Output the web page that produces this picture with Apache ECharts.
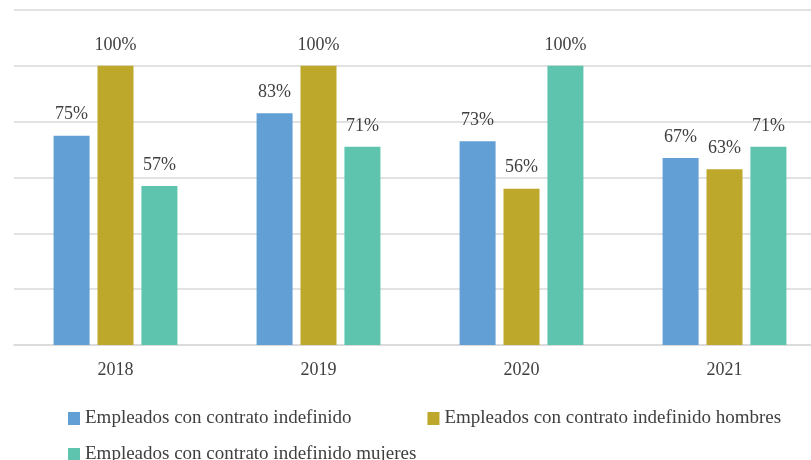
<!DOCTYPE html>
<html>
<head>
<meta charset="utf-8">
<script src="https://cdn.jsdelivr.net/npm/echarts@6/dist/echarts.min.js"></script>
<style>html,body{margin:0;padding:0;background:#fff}#c{width:811px;height:460px}</style>
</head>
<body>
<div id="c"></div>
<script>
const categories = ['2018', '2019', '2020', '2021'];
const seriesNames = [
  'Empleados con contrato indefinido',
  'Empleados con contrato indefinido hombres',
  'Empleados con contrato indefinido mujeres'
];
const indefinido = [75, 83, 73, 67];
const hombres = [100, 100, 56, 63];
const mujeres = [57, 71, 100, 71];
const colors = ['#629FD5', '#BEA82C', '#5EC4AE'];

const FONT = '"Liberation Serif", "Times New Roman", serif';
const label = {
  show: true, position: 'top', distance: 12,
  formatter: '{c}%', fontFamily: FONT, fontSize: 18, color: '#404040'
};
function mk(name, data, color) {
  return { name, type: 'bar', data, barWidth: 36, barGap: '22%',
    itemStyle: { color }, label };
}
const legendText = { fontFamily: FONT, fontSize: 19, color: '#404040' };
const chart = echarts.init(document.getElementById('c'));
chart.setOption({
  animation: false,
  grid: { left: 14, width: 812, top: 10, bottom: 115, containLabel: false,
          outerBoundsMode: 'none' },
  legend: [
    { data: [seriesNames[0], seriesNames[1]], left: 63, top: 404, icon: 'rect',
      itemWidth: 12, itemHeight: 13, itemGap: 76, textStyle: legendText },
    { data: [seriesNames[2]], left: 63, top: 440, icon: 'rect',
      itemWidth: 12, itemHeight: 13, textStyle: legendText }
  ],
  xAxis: {
    type: 'category', data: categories,
    axisLine: { lineStyle: { color: '#D9D9D9', width: 1.5 } },
    axisTick: { show: false },
    axisLabel: { margin: 16, fontFamily: FONT, fontSize: 18, color: '#404040' }
  },
  yAxis: {
    type: 'value', min: 0, max: 120, interval: 20,
    axisLabel: { show: false }, axisLine: { show: false }, axisTick: { show: false },
    splitLine: { lineStyle: { color: '#D9D9D9', width: 1.5 } }
  },
  series: [
    mk(seriesNames[0], indefinido, colors[0]),
    mk(seriesNames[1], hombres, colors[1]),
    mk(seriesNames[2], mujeres, colors[2])
  ]
});
</script>
</body>
</html>
